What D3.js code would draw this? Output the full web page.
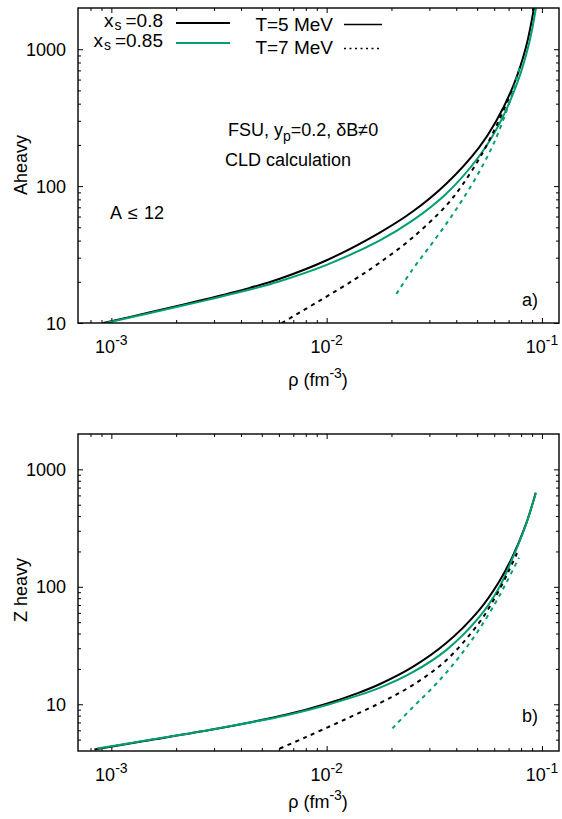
<!DOCTYPE html>
<html><head><meta charset="utf-8">
<script src="https://cdn.jsdelivr.net/npm/d3@7"></script>
<style>
body{margin:0;background:#fff}
svg{display:block}
text{font-family:"Liberation Sans",Arial,Helvetica,sans-serif;fill:#000}
</style>
</head><body>
<svg id="c" width="562" height="819"></svg>
<script>
// ---------------- data ----------------
const xDomain = [7e-4, 0.12];
const yDomainA = [10, 2000];
const yDomainB = [4, 2000];
const xTickValues = [0.001, 0.01, 0.1];
const xTickExponents = ["-3", "-2", "-1"];
const yTickValues = [10, 100, 1000];
const yTickLabels = ["10", "100", "1000"];
const xsLabels = ["0.8", "0.85"];
const tLabels = ["T=5 MeV", "T=7 MeV"];

// Panel a) A heavy
const rhoA_x08_T5 = [0.000918,0.001516,0.002582,0.0044,0.006058,0.01,0.01759,0.02501,0.03593,0.05109,0.06124,0.07419,0.08432,0.09184];
const A_x08_T5    = [10,11.98,14.59,18.05,21.04,28.73,45.6,64.9,104.1,192.1,297.3,558.6,1037,2000];
const rhoA_x085_T5 = [0.000938,0.001516,0.002582,0.0044,0.006058,0.01,0.01759,0.02501,0.03593,0.05109,0.06323,0.07661,0.08706,0.0938];
const A_x085_T5    = [10,11.84,14.33,17.55,20.2,26.6,40.0,55.9,88.0,165.2,282.3,561.7,1098,2000];
const rhoA_x08_T7 = [0.006189,0.00958,0.01348,0.01759,0.02501,0.03593,0.04262,0.05276,0.06323,0.07419];
const A_x08_T7    = [10,15.0,20.8,27.5,41.9,72.1,101.5,172.9,303.3,539.5];
const rhoA_x085_T7 = [0.02109,0.02501,0.02998,0.03593,0.04262,0.05109,0.05995,0.07034,0.07909];
const A_x085_T7    = [16.3,24.5,35.9,53.0,79.1,126.7,208.1,400.6,754.7];

// Panel b) Z heavy
const rhoZ_x08_T5 = [0.000834,0.001421,0.00303,0.006528,0.01,0.01406,0.01759,0.02501,0.03593,0.05109,0.06323,0.07262,0.08432,0.09184,0.0935];
const Z_x08_T5    = [4.12,4.86,6.15,8.17,10.1,12.5,14.8,20.7,33.2,63.4,110.6,177,342,560,632];
const rhoZ_x085_T5 = [0.000861,0.001516,0.00303,0.006528,0.01,0.01759,0.02501,0.03593,0.05109,0.06323,0.07262,0.08432,0.09184,0.0938];
const Z_x085_T5    = [4.2,4.98,6.17,8.07,9.86,13.8,18.65,28.9,55.1,98.3,171,340,560,632];
const rhoZ_x08_T7 = [0.006058,0.00791,0.01161,0.01759,0.02501,0.03593,0.05109,0.06124,0.07034,0.07661];
const Z_x08_T7    = [4.2,5.2,7.14,10.2,14.5,23.7,49.5,83.9,137.9,194];
const rhoZ_x085_T7 = [0.02021,0.02501,0.02998,0.03593,0.04262,0.05109,0.06124,0.06812,0.07825];
const Z_x085_T7    = [6.24,9.35,12.96,18.6,27.3,43.4,74.7,107.3,176.8];

// ---------------- drawing ----------------
const BLACK = "#000000", GREEN = "#009e73";
const svg = d3.select("#c");
const L = 78, R = 559;
const x = d3.scaleLog().domain(xDomain).range([L, R]);

function zipS(r, v){ return r.map((d,i)=>[d, v[i]]); }

const panels = [
  {id:"a", top:8, bottom:323, yDomain:yDomainA, ytitle:"Aheavy", tag:"a)", ty:165, tagy:306, xty:386,
   series:[
     {d:zipS(rhoA_x08_T5,A_x08_T5), c:BLACK, dash:null},
     {d:zipS(rhoA_x085_T5,A_x085_T5), c:GREEN, dash:null},
     {d:zipS(rhoA_x08_T7,A_x08_T7), c:BLACK, dash:"4,4.5"},
     {d:zipS(rhoA_x085_T7,A_x085_T7), c:GREEN, dash:"4,4.5"}
   ]},
  {id:"b", top:434, bottom:751, yDomain:yDomainB, ytitle:"Z heavy", tag:"b)", ty:590, tagy:722, xty:808,
   series:[
     {d:zipS(rhoZ_x08_T5,Z_x08_T5), c:BLACK, dash:null},
     {d:zipS(rhoZ_x085_T5,Z_x085_T5), c:GREEN, dash:null},
     {d:zipS(rhoZ_x08_T7,Z_x08_T7), c:BLACK, dash:"4,4.5"},
     {d:zipS(rhoZ_x085_T7,Z_x085_T7), c:GREEN, dash:"4,4.5"}
   ]}
];

function minorTicks(domain){
  const out=[];
  const lo=Math.floor(Math.log10(domain[0])), hi=Math.ceil(Math.log10(domain[1]));
  for(let e=lo;e<=hi;e++) for(let k=2;k<=9;k++){
    const v=k*Math.pow(10,e);
    if(v>domain[0]*1.0001 && v<domain[1]*0.9999) out.push(v);
  }
  return out;
}
const xMinor = minorTicks(xDomain);

panels.forEach(p=>{
  const y = d3.scaleLog().domain(p.yDomain).range([p.bottom, p.top]);
  const g = svg.append("g");
  const yMinor = minorTicks(p.yDomain);

  svg.append("clipPath").attr("id","clip"+p.id).append("rect")
    .attr("x",L).attr("y",p.top).attr("width",R-L).attr("height",p.bottom-p.top);

  const mk = (axis, tr)=>{
    const a = g.append("g").attr("transform",tr).call(axis);
    a.selectAll(".domain").remove();
    a.selectAll("line").attr("stroke","#000").attr("stroke-width",1);
    a.selectAll("text").remove();
  };
  mk(d3.axisBottom(x).tickValues(xTickValues).tickSize(-5).tickFormat(""), `translate(0,${p.bottom})`);
  mk(d3.axisBottom(x).tickValues(xMinor).tickSize(-3).tickFormat(""), `translate(0,${p.bottom})`);
  mk(d3.axisTop(x).tickValues(xTickValues).tickSize(-5).tickFormat(""), `translate(0,${p.top})`);
  mk(d3.axisTop(x).tickValues(xMinor).tickSize(-3).tickFormat(""), `translate(0,${p.top})`);
  mk(d3.axisLeft(y).tickValues(yTickValues).tickSize(-5).tickFormat(""), `translate(${L},0)`);
  mk(d3.axisLeft(y).tickValues(yMinor).tickSize(-3).tickFormat(""), `translate(${L},0)`);
  mk(d3.axisRight(y).tickValues(yTickValues).tickSize(-5).tickFormat(""), `translate(${R},0)`);
  mk(d3.axisRight(y).tickValues(yMinor).tickSize(-3).tickFormat(""), `translate(${R},0)`);

  const line = d3.line().x(d=>x(d[0])).y(d=>y(d[1])).curve(d3.curveCatmullRom.alpha(0.5));
  const cg = g.append("g").attr("clip-path",`url(#clip${p.id})`);
  p.series.forEach(s=>{
    cg.append("path").attr("d",line(s.d)).attr("fill","none")
      .attr("stroke",s.c).attr("stroke-width",2)
      .attr("stroke-dasharray",s.dash);
  });

  g.append("rect").attr("x",L).attr("y",p.top).attr("width",R-L).attr("height",p.bottom-p.top)
    .attr("fill","none").attr("stroke","#000").attr("stroke-width",1.4);

  yTickValues.forEach((v,i)=>{
    g.append("text").attr("x",66).attr("y",y(v)+6.5).attr("text-anchor","end")
      .attr("font-size",18).text(yTickLabels[i]);
  });
  xTickValues.forEach((v,i)=>{
    const t = g.append("text").attr("x",x(v)).attr("y",p.bottom+30).attr("text-anchor","middle").attr("font-size",18);
    t.append("tspan").text("10");
    t.append("tspan").attr("dy",-8).attr("font-size",14).text(xTickExponents[i]);
  });
  const xt = g.append("text").attr("x",318).attr("y",p.xty).attr("text-anchor","middle").attr("font-size",18);
  xt.append("tspan").text("ρ (fm");
  xt.append("tspan").attr("dy",-8).attr("font-size",14).text("-3");
  xt.append("tspan").attr("dy",8).text(")");
  g.append("text").attr("transform",`translate(27,${p.ty}) rotate(-90)`)
    .attr("text-anchor","middle").attr("font-size",18).text(p.ytitle);
  g.append("text").attr("x",538).attr("y",p.tagy).attr("text-anchor","end")
    .attr("font-size",18).text(p.tag);
});

// legend (panel a)
const lg = svg.append("g");
[[23,26.5,BLACK],[43,47,GREEN]].forEach((r,i)=>{
  const t = lg.append("text").attr("x",163).attr("y",r[1]).attr("text-anchor","end").attr("font-size",19);
  t.append("tspan").text("x");
  t.append("tspan").attr("dy",3).attr("dx",1).attr("font-size",14).text("s");
  t.append("tspan").attr("dy",-3).attr("dx",4).text("="+xsLabels[i]);
  lg.append("line").attr("x1",176).attr("x2",230).attr("y1",r[0]).attr("y2",r[0])
    .attr("stroke",r[2]).attr("stroke-width",2);
});
[[24.5,31,null],[48.5,54,"2,3.5"]].forEach((r,i)=>{
  lg.append("text").attr("x",333).attr("y",r[1]).attr("text-anchor","end").attr("font-size",19).text(tLabels[i]);
  lg.append("line").attr("x1",344).attr("x2",382).attr("y1",r[0]).attr("y2",r[0])
    .attr("stroke","#000").attr("stroke-width",1.3).attr("stroke-dasharray",r[2]);
});

// annotations (panel a)
const an = svg.append("g");
const t1 = an.append("text").attr("x",228).attr("y",136).attr("font-size",18);
t1.append("tspan").text("FSU, y");
t1.append("tspan").attr("dy",5).attr("font-size",14).text("p");
t1.append("tspan").attr("dy",-5).text("=0.2, δB≠0");
an.append("text").attr("x",225).attr("y",166).attr("font-size",18).text("CLD calculation");
const t3 = an.append("text").attr("x",110).attr("y",219).attr("font-size",18);
t3.append("tspan").text("A");
t3.append("tspan").attr("dx",6).text("≤");
t3.append("tspan").attr("dx",6).text("12");
</script>
</body></html>
